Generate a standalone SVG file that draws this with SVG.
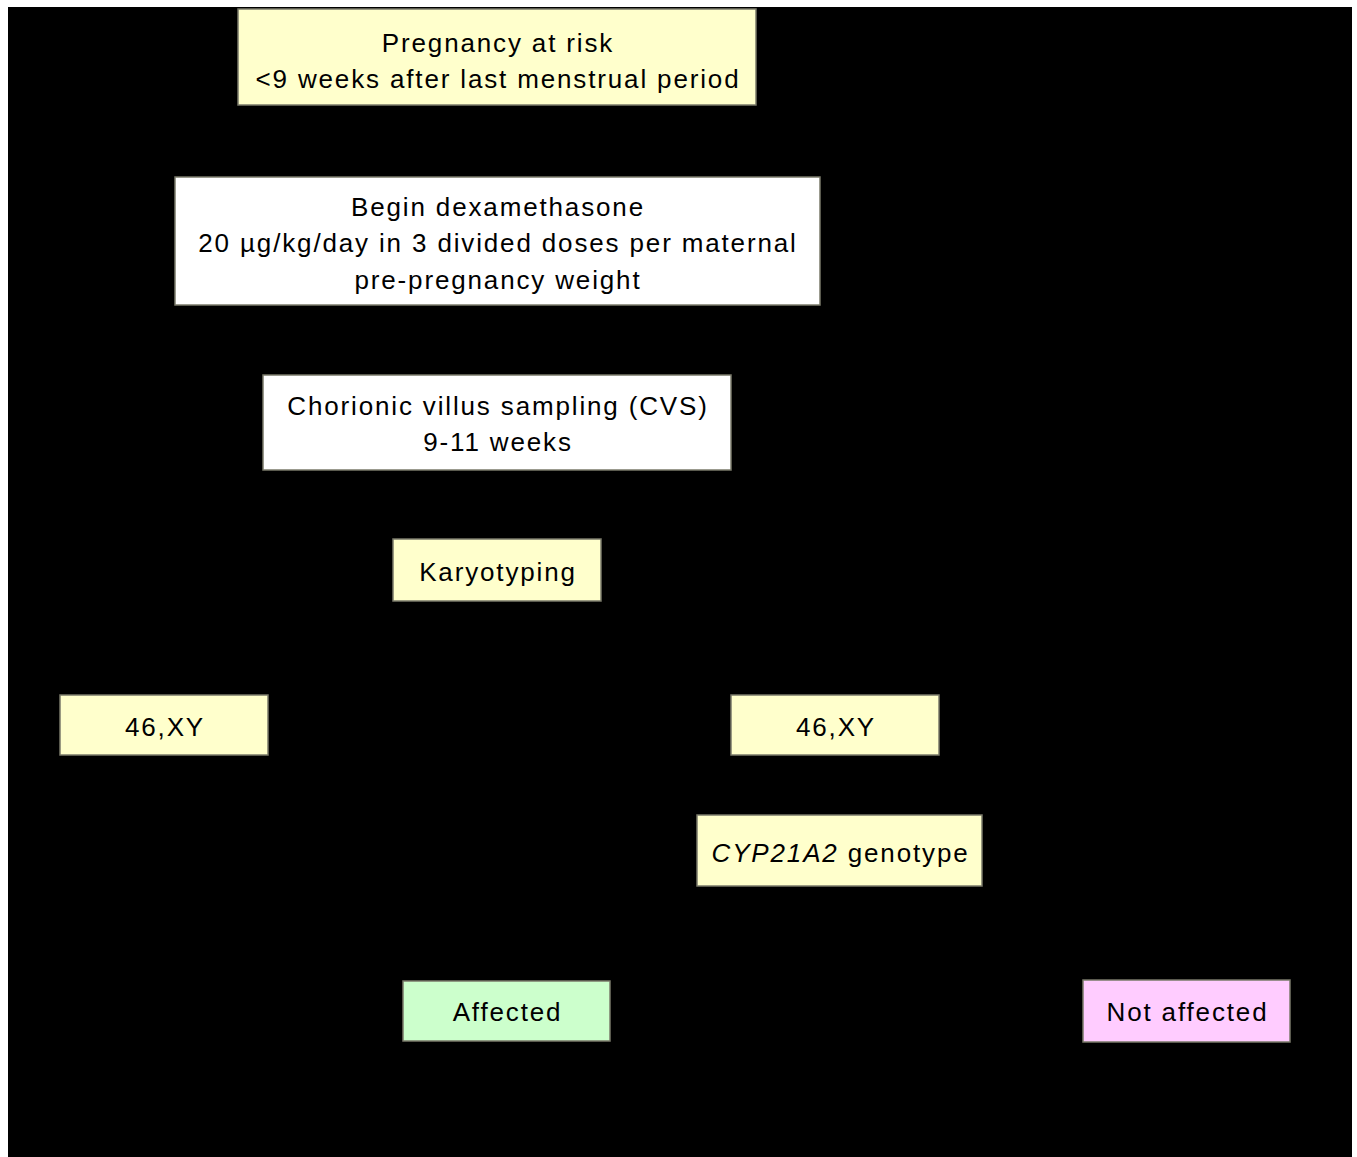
<svg xmlns="http://www.w3.org/2000/svg" width="1357" height="1157" viewBox="0 0 1357 1157">
<style>
.box{stroke:#7a7a6a;stroke-width:1.5}
.y{fill:#ffffcc}.w{fill:#ffffff}.g{fill:#ccffcc}.p{fill:#ffccff}
text{font-family:"Liberation Sans",Arial,sans-serif;font-size:26px;fill:#000;text-anchor:middle;letter-spacing:1.85px}
</style>
<rect x="0" y="0" width="1357" height="1157" fill="#ffffff"/>
<rect x="8" y="7" width="1344" height="1150" fill="#000000"/>
<g id="connectors"></g>
<g id="n1"><rect class="box y" x="238" y="9" width="518" height="96"/><text x="498" y="52">Pregnancy at risk</text><text x="498" y="88">&lt;9 weeks after last menstrual period</text></g>
<g id="n2"><rect class="box w" x="175" y="177" width="645" height="128"/><text x="498" y="216">Begin dexamethasone</text><text x="498" y="252">20 µg/kg/day in 3 divided doses per maternal</text><text x="498" y="289">pre-pregnancy weight</text></g>
<g id="n3"><rect class="box w" x="263" y="375" width="468" height="95"/><text x="498" y="415">Chorionic villus sampling (CVS)</text><text x="498" y="451">9-11 weeks</text></g>
<g id="n4"><rect class="box y" x="393" y="539" width="208" height="62"/><text x="498" y="581">Karyotyping</text></g>
<g id="n5"><rect class="box y" x="60" y="695" width="208" height="60"/><text x="165" y="736">46,XY</text></g>
<g id="n6"><rect class="box y" x="731" y="695" width="208" height="60"/><text x="836" y="736">46,XY</text></g>
<g id="n7"><rect class="box y" x="697" y="815" width="285" height="71"/><text x="840.5" y="862"><tspan font-style="italic">CYP21A2</tspan> genotype</text></g>
<g id="n8"><rect class="box g" x="403" y="981" width="207" height="60"/><text x="507.5" y="1021">Affected</text></g>
<g id="n9"><rect class="box p" x="1083" y="980" width="207" height="62"/><text x="1187.5" y="1021">Not affected</text></g>
</svg>
